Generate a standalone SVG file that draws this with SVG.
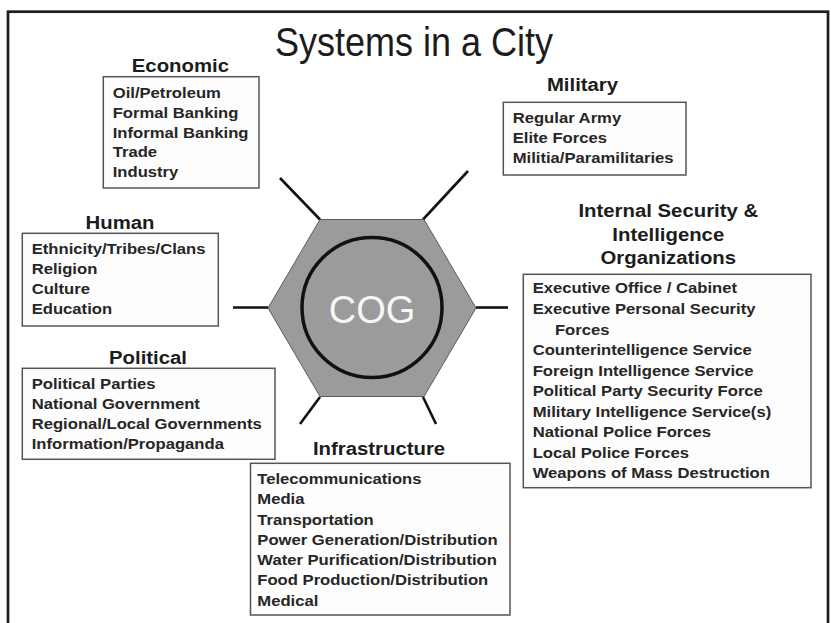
<svg xmlns="http://www.w3.org/2000/svg" width="831" height="623" viewBox="0 0 831 623">
<style>
.frame{fill:#ffffff;stroke:#1e1e1e;stroke-width:2.7}
.box{fill:#fdfdfd;stroke:#555555;stroke-width:1.5}
.hd{font-family:"Liberation Sans",Arial,sans-serif;font-weight:bold;font-size:18.5px;fill:#1c1c1c;text-anchor:middle}
.it{font-family:"Liberation Sans",Arial,sans-serif;font-weight:bold;font-size:15px;fill:#262626}
.title{font-family:"Liberation Sans",Arial,sans-serif;font-size:40px;fill:#1c1c1c;text-anchor:middle}
.spoke{stroke:#111111;stroke-width:2.6;stroke-linecap:butt;fill:none}
.hex{fill:#9b9b9b;stroke:#5a5a5a;stroke-width:1}
.ring{fill:none;stroke:#111111;stroke-width:3.5}
.cog{font-family:"Liberation Sans",Arial,sans-serif;font-size:38px;fill:#f6f6f6;text-anchor:middle}
</style>
<rect x="0" y="0" width="831" height="623" fill="#ffffff"/>
<rect class="frame" x="8" y="11.7" width="820" height="640"/>
<text class="title" transform="translate(414,55.7) scale(0.9,1)">Systems in a City</text>

<g id="connectors">
<line class="spoke" x1="280" y1="178" x2="320" y2="219.5"/>
<line class="spoke" x1="468" y1="171" x2="423" y2="219.5"/>
<line class="spoke" x1="233" y1="307.5" x2="268" y2="307.5"/>
<line class="spoke" x1="476" y1="307.5" x2="508" y2="307.5"/>
<line class="spoke" x1="320" y1="397" x2="300" y2="424"/>
<line class="spoke" x1="423" y1="397" x2="436" y2="424"/>
</g>

<g id="cog">
<polygon class="hex" points="268,308 320,219.5 424,219.5 476,308 424,396.5 320,396.5"/>
<circle class="ring" cx="372" cy="307.5" r="70"/>
<text class="cog" x="372" y="323">COG</text>
</g>

<g id="economic">
<text class="hd" transform="translate(180.4,71.7) scale(1.1,1)">Economic</text>
<rect class="box" x="103.3" y="76.7" width="155.7" height="111.3"/>
<g transform="translate(112.7,0) scale(1.11,1)">
<text class="it" x="0" y="98">Oil/Petroleum</text>
<text class="it" x="0" y="117.8">Formal Banking</text>
<text class="it" x="0" y="137.6">Informal Banking</text>
<text class="it" x="0" y="157.4">Trade</text>
<text class="it" x="0" y="177.2">Industry</text>
</g>
</g>

<g id="military">
<text class="hd" transform="translate(582.5,90.7) scale(1.1,1)">Military</text>
<rect class="box" x="503.3" y="102.3" width="182.7" height="72.7"/>
<g transform="translate(512.7,0) scale(1.11,1)">
<text class="it" x="0" y="123.3">Regular Army</text>
<text class="it" x="0" y="143.5">Elite Forces</text>
<text class="it" x="0" y="163.5">Militia/Paramilitaries</text>
</g>
</g>

<g id="human">
<text class="hd" transform="translate(120,229.3) scale(1.1,1)">Human</text>
<rect class="box" x="22.3" y="233.3" width="196" height="92.7"/>
<g transform="translate(31.7,0) scale(1.11,1)">
<text class="it" x="0" y="254.3">Ethnicity/Tribes/Clans</text>
<text class="it" x="0" y="274.3">Religion</text>
<text class="it" x="0" y="294.3">Culture</text>
<text class="it" x="0" y="314.3">Education</text>
</g>
</g>

<g id="political">
<text class="hd" transform="translate(148,364) scale(1.1,1)">Political</text>
<rect class="box" x="22.3" y="368.3" width="252.7" height="91"/>
<g transform="translate(31.7,0) scale(1.11,1)">
<text class="it" x="0" y="388.8">Political Parties</text>
<text class="it" x="0" y="408.8">National Government</text>
<text class="it" x="0" y="429">Regional/Local Governments</text>
<text class="it" x="0" y="449.5">Information/Propaganda</text>
</g>
</g>

<g id="internal-security">
<text class="hd" transform="translate(668.3,217) scale(1.1,1)">Internal Security &amp;</text>
<text class="hd" transform="translate(668.3,240.5) scale(1.1,1)">Intelligence</text>
<text class="hd" transform="translate(668.3,264) scale(1.1,1)">Organizations</text>
<rect class="box" x="523.3" y="274.3" width="287.7" height="213.4"/>
<g transform="translate(532.7,0) scale(1.11,1)">
<text class="it" x="0" y="293.5">Executive Office / Cabinet</text>
<text class="it" x="0" y="314">Executive Personal Security</text>
<text class="it" x="20" y="334.6">Forces</text>
<text class="it" x="0" y="355.2">Counterintelligence Service</text>
<text class="it" x="0" y="375.7">Foreign Intelligence Service</text>
<text class="it" x="0" y="396.3">Political Party Security Force</text>
<text class="it" x="0" y="416.8">Military Intelligence Service(s)</text>
<text class="it" x="0" y="437.4">National Police Forces</text>
<text class="it" x="0" y="457.9">Local Police Forces</text>
<text class="it" x="0" y="478.5">Weapons of Mass Destruction</text>
</g>
</g>

<g id="infrastructure">
<text class="hd" transform="translate(379,455) scale(1.1,1)">Infrastructure</text>
<rect class="box" x="250.5" y="463.3" width="259.5" height="151.7"/>
<g transform="translate(257.3,0) scale(1.11,1)">
<text class="it" x="0" y="484">Telecommunications</text>
<text class="it" x="0" y="504.3">Media</text>
<text class="it" x="0" y="524.6">Transportation</text>
<text class="it" x="0" y="544.9">Power Generation/Distribution</text>
<text class="it" x="0" y="565.2">Water Purification/Distribution</text>
<text class="it" x="0" y="585.5">Food Production/Distribution</text>
<text class="it" x="0" y="605.8">Medical</text>
</g>
</g>
</svg>
